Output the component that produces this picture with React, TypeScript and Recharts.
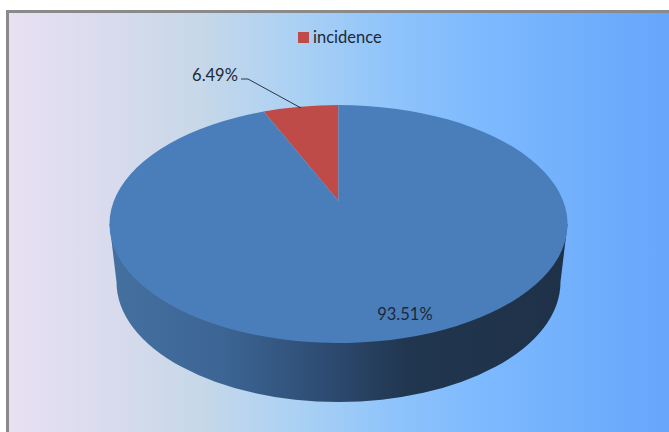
import { Legend, Pie, PieChart } from "recharts";

const categories = ["incidence", "other"];
const shares = [6.49, 93.51];
const sliceColors = ["#be4b48", "#4a7ebb"];
const legendName = "incidence";

const pieData = categories.map((name, i) => ({ name, value: shares[i], fill: sliceColors[i] }));

const W = 669;
const H = 432;
const FONT = "Lato, sans-serif";
const TEXT = "#1c2838";

// the picture is a tilted 3D pie, so the circle gets squashed by hand
const SQUASH = 119 / 229;
const APEX_UP = 23; // pie tip sits above the ellipse centre (perspective)
const SKEW = 0.189;
const WALL_DROP = 58;
const WALL_INSET = 7;

function rimPoint(cx: number, cy: number, r: number, angle: number) {
  const a = ((angle - 90) * Math.PI) / 180;
  const t = a - SKEW * Math.sin(a);
  return { x: cx - r * Math.sin(t), y: cy - r * SQUASH * Math.cos(t), t };
}

function TopSlice(props: any) {
  const { cx, cy, outerRadius: r, startAngle, endAngle, fill } = props;
  const p1 = rimPoint(cx, cy, r, startAngle);
  const p2 = rimPoint(cx, cy, r, endAngle);
  const large = Math.abs(p2.t - p1.t) > Math.PI ? 1 : 0;
  const d = `M${cx},${cy - APEX_UP} L${p1.x},${p1.y} A${r},${r * SQUASH} 0 ${large} 0 ${p2.x},${p2.y} Z`;
  return <path d={d} fill={fill} />;
}

function WallSlice(props: any) {
  const { cx, cy, outerRadius: r, startAngle, endAngle } = props;
  if (Math.abs(endAngle - startAngle) < 180) return <g />;
  const ry = r * SQUASH;
  const bx = r - WALL_INSET;
  const by = cy + WALL_DROP;
  const d = `M${cx - r},${cy} L${cx - bx},${by} A${bx},${ry + 1} 0 0 0 ${cx + bx},${by} L${cx + r},${cy} Z`;
  return <path d={d} fill="url(#wallFill)" />;
}

function SliceLabel(props: any) {
  const { cx, cy, outerRadius: r, index, value } = props;
  const text = `${Number(value).toFixed(2)}%`;
  if (index === 0) {
    const tx = cx - 146.5;
    const ty = cy - 149;
    const line = `M${tx + 49},${ty + 4} L${tx + 56},${ty + 4} L${tx + 109},${ty + 33}`;
    return (
      <g>
        <path d={line} fill="none" stroke="#2b3440" strokeWidth={1} />
        <text x={tx + 23} y={ty} dy="0.35em" textAnchor="middle" fill={TEXT} fontFamily={FONT} fontSize={16.5}>
          {text}
        </text>
      </g>
    );
  }
  return (
    <text x={cx + r * 0.29} y={cy + r * SQUASH * 0.756} dy="0.35em" textAnchor="middle" fill={TEXT} fontFamily={FONT} fontSize={16.5}>
      {text}
    </text>
  );
}

function LegendContent({ payload }: any) {
  // the source chart only names the red slice, and both pies report it
  const item = (payload || []).find((p: any) => p.value === legendName);
  if (!item) return null;
  return (
    <div style={{ display: "flex", alignItems: "center", fontFamily: FONT, fontSize: 16.5, color: TEXT, lineHeight: "20px" }}>
      <span style={{ width: 11, height: 11, background: sliceColors[0], marginRight: 4 }} />
      {item.value}
    </div>
  );
}

export default function App() {
  return (
    <div style={{ position: "absolute", left: 0, top: 0, width: W, height: H, background: "#fff", overflow: "hidden" }}>
      <div
        style={{
          position: "absolute",
          left: 6,
          top: 10,
          width: W - 6,
          height: H - 10,
          boxSizing: "border-box",
          borderLeft: "3px solid #8a8a8a",
          borderTop: "3px solid #8a8a8a",
          background:
            "linear-gradient(90deg, #e8e0f3 0%, #dcdcee 12%, #c8d8e8 28%, #aed2f3 42%, #8fc4fb 58%, #7db9fe 72%, #66a6fb 100%)",
        }}
      />
      <PieChart width={W} height={H} margin={{ top: 0, right: 0, bottom: 0, left: 0 }} style={{ position: "absolute", left: 0, top: 0 }}>
        <defs>
          <linearGradient id="wallFill" x1="0" x2="1" y1="0" y2="0">
            <stop offset="0%" stopColor="#44709f" />
            <stop offset="25%" stopColor="#3c6594" />
            <stop offset="45%" stopColor="#2f4e76" />
            <stop offset="65%" stopColor="#21364f" />
            <stop offset="100%" stopColor="#1e3148" />
          </linearGradient>
        </defs>
        <Legend content={<LegendContent />} wrapperStyle={{ position: "absolute", left: 298, top: 27, width: "auto" }} />
        <Pie
          data={pieData}
          dataKey="value"
          nameKey="name"
          cx={338.5}
          cy={224}
          outerRadius={229}
          startAngle={90}
          endAngle={450}
          stroke="none"
          legendType="none"
          shape={WallSlice}
          isAnimationActive={false}
        />
        <Pie
          data={pieData}
          dataKey="value"
          nameKey="name"
          cx={338.5}
          cy={224}
          outerRadius={229}
          startAngle={90}
          endAngle={450}
          stroke="none"
          shape={TopSlice}
          label={SliceLabel}
          labelLine={false}
          isAnimationActive={false}
        />
      </PieChart>
    </div>
  );
}
